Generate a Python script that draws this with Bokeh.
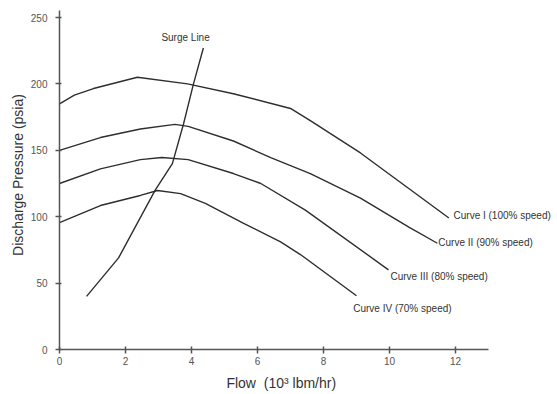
from bokeh.plotting import figure
from bokeh.models import Range1d, FixedTicker
from bokeh.core.properties import value
from bokeh.embed import file_html
from bokeh.resources import INLINE

# Curve data (flow in 10^3 lbm/hr, discharge pressure in psia)
curve1_x = [0, 0.45, 1.03, 2.36, 3.88, 5.27, 7.0, 7.6, 9.12, 11.8]
curve1_y = [185, 191.5, 196.5, 205, 200, 192.6, 181.5, 172.4, 148, 99]

curve2_x = [0, 1.24, 2.45, 3.5, 3.9, 5.27, 6.4, 7.6, 9.12, 10.6, 11.45]
curve2_y = [150, 159.6, 166, 169.5, 168, 157, 144.5, 132.5, 114, 92, 80]

curve3_x = [0, 1.24, 2.45, 3.1, 3.9, 5.27, 6.1, 7.45, 9.97]
curve3_y = [125, 136, 143, 144.6, 143, 132.5, 125, 105, 60]

curve4_x = [0, 1.24, 2.45, 2.97, 3.67, 4.42, 5.58, 6.7, 7.3, 9.0]
curve4_y = [95.6, 108.4, 116, 119.7, 117.4, 110, 95, 81, 71.5, 40.5]

surge_x = [0.82, 1.79, 2.9, 3.42, 3.76, 4.06, 4.36]
surge_y = [40, 69, 120, 140, 170, 200, 227]

curve_labels = ["Curve I (100% speed)", "Curve II (90% speed)",
                "Curve III (80% speed)", "Curve IV (70% speed)"]
x_ticks = [0, 2, 4, 6, 8, 10, 12]
y_ticks = [0, 50, 100, 150, 200, 250]

# label anchor positions (data space)
label_x = [11.94, 11.48, 10.03, 8.9]
label_y = [101, 80.5, 55, 31]

FONT = "Liberation Sans"
INK = "#2e2e2e"
NBSP = "\u00a0"

W, H = 557, 394
LEFT, BOTTOM = 59, 45
p = figure(width=W, height=H,
           x_range=Range1d(0, (W - LEFT) / 33.0),
           y_range=Range1d(0, (H - BOTTOM) / 1.328),
           output_backend="svg", toolbar_location=None,
           min_border_left=LEFT, min_border_right=0,
           min_border_top=0, min_border_bottom=BOTTOM)

p.outline_line_color = None
p.grid.grid_line_color = None
p.background_fill_color = "white"
p.border_fill_color = "white"

for xs, ys in [(curve1_x, curve1_y), (curve2_x, curve2_y),
               (curve3_x, curve3_y), (curve4_x, curve4_y),
               (surge_x, surge_y)]:
    p.line(xs, ys, line_color=INK, line_width=1.4)

p.text(x=label_x, y=label_y, text=curve_labels,
       text_font=value(FONT), text_font_size="10px", text_color="#333333",
       text_align="left", text_baseline="middle")
p.text(x=[3.82], y=[235], text=["Surge Line"],
       text_font=value(FONT), text_font_size="10px", text_color="#333333",
       text_align="center", text_baseline="middle")

# axes
p.xaxis.bounds = (0, 13)
p.yaxis.bounds = (0, 255)
p.xaxis.ticker = FixedTicker(ticks=x_ticks)
p.yaxis.ticker = FixedTicker(ticks=y_ticks)
for ax in (p.xaxis, p.yaxis):
    ax.axis_line_color = "#555555"
    ax.axis_line_width = 1.5
    ax.major_tick_line_color = "#555555"
    ax.major_tick_line_width = 1.5
    ax.minor_tick_line_color = None
    ax.major_label_text_font = FONT
    ax.major_label_text_font_size = "10px"
    ax.major_label_text_color = "#555555"
    ax.axis_label_text_font = FONT
    ax.axis_label_text_font_size = "14px"
    ax.axis_label_text_font_style = "normal"
    ax.axis_label_text_color = "#333333"

p.xaxis.major_tick_in = 3
p.xaxis.major_tick_out = 4
p.yaxis.major_tick_in = 2
p.yaxis.major_tick_out = 4
p.xaxis.major_label_standoff = 3
p.yaxis.major_label_standoff = 8
p.yaxis.axis_label = "Discharge Pressure (psia)"
p.yaxis.axis_label_standoff = 2
# trailing no-break spaces shift the centred title under the drawn axis (0..13)
p.xaxis.axis_label = "Flow" + NBSP + NBSP + "(10³ lbm/hr)" + NBSP * 14
p.xaxis.axis_label_standoff = 7

open("out.html", "w").write(file_html(p, INLINE))
